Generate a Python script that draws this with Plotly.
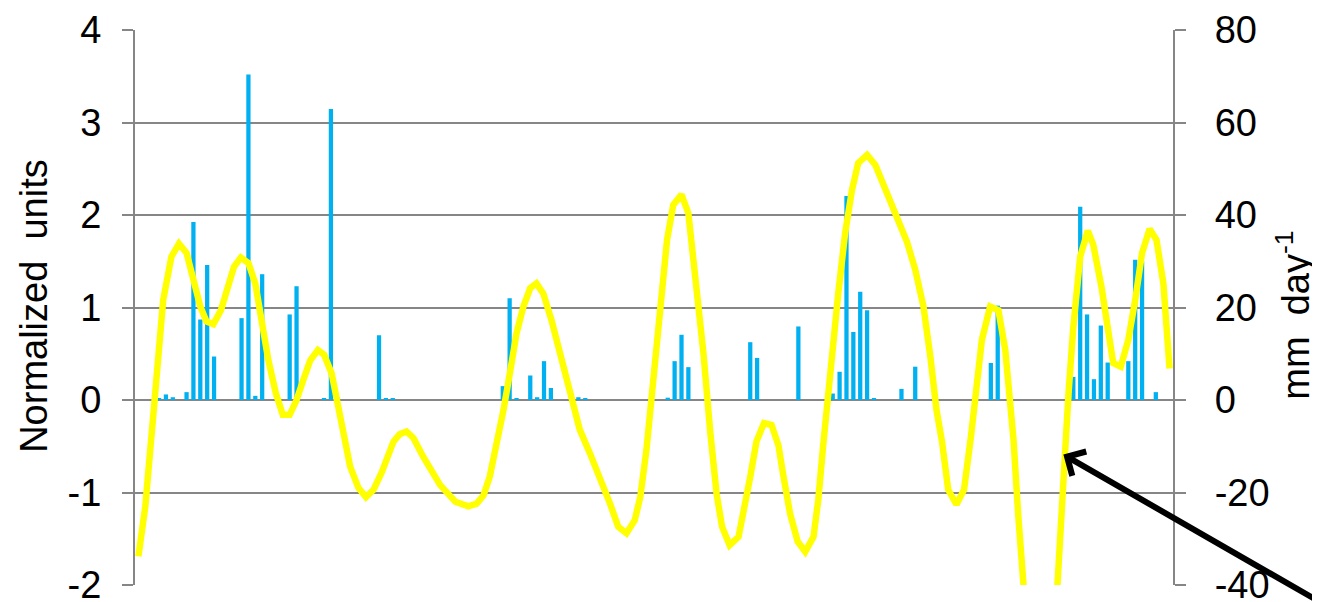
import plotly.graph_objects as go

# Daily precipitation (mm day-1), right axis; day index 0..150
rain_day = [3, 4, 5, 7, 8, 9, 10, 11, 15, 16, 17, 18, 22, 23, 27, 28, 29, 35, 36, 37,
            53, 54, 55, 57, 58, 59, 60, 64, 65, 77, 78, 79, 80, 89, 90, 96,
            101, 102, 103, 104, 105, 106, 107, 111, 113, 124, 125,
            136, 137, 138, 139, 140, 141, 144, 145, 146, 148]
rain_mm = [0.4, 1.2, 0.6, 1.7, 38.5, 17.4, 29.2, 9.4, 17.7, 70.4, 0.9, 27.2, 18.5, 24.6, 0.3, 62.9, 0.5, 14.0, 0.4, 0.4,
           3.0, 22.0, 0.3, 5.3, 0.6, 8.4, 2.6, 0.6, 0.3, 0.5, 8.4, 14.1, 7.1, 12.5, 9.1, 15.9,
           1.4, 6.1, 44.1, 14.7, 23.4, 19.4, 0.4, 2.4, 7.2, 8.0, 20.4,
           5.0, 41.8, 18.5, 4.5, 16.1, 8.1, 8.4, 30.3, 30.0, 1.7]

# Normalized series (left axis)
line_day = [0, 1, 2.4, 3.6, 4.8, 5.9, 7.0, 8.0, 9.0, 9.9,
            10.9, 12.0, 12.9, 13.9, 14.9, 16.0, 17.0, 17.9, 18.9, 20.0,
            21.0, 22.0, 23.0, 24.0, 25.0, 26.1, 27.0, 28.1, 29.1, 30.0,
            30.8, 32.0, 33.1, 34.2, 35.4, 37.1, 38.0, 39.0, 40.0, 41.4,
            43.9, 46.1, 48.0, 49.2, 50.2, 51.1, 52.1, 53.1, 54.1, 55.0,
            56.0, 57.0, 57.9, 58.9, 60.1, 61.3, 62.3, 63.3, 64.2, 65.7,
            67.1, 68.6, 69.8, 71.0, 72.2, 73.0, 73.9, 74.9, 75.9, 76.9,
            77.8, 79.0, 80.0, 81.0, 82.2, 83.2, 84.1, 84.9, 86.0, 87.3,
            88.2, 89.0, 89.9, 91.0, 92.1, 93.1, 93.8, 94.8, 95.9, 97.0,
            98.2, 98.9, 99.6, 100.6, 101.8, 102.8, 103.8, 104.7, 106.0, 107.2,
            108.1, 109.1, 110.3, 111.8, 113.0, 114.2, 115.2, 116.1, 116.9, 117.8,
            119.0, 120.1, 121.1, 122.7, 123.9, 125.1, 126.1, 127.3, 128.0, 128.5,
            129.4, 131.0, 132.6, 133.7, 134.6, 135.3, 136.0, 137.0, 138.1, 138.9,
            140.1, 141.1, 141.8, 142.9, 144.0, 145.0, 146.0, 147.1, 148.1, 149.1,
            150.0]
line_val = [-1.69, -1.15, 0.04, 1.08, 1.55, 1.69, 1.59, 1.30, 1.01, 0.85,
            0.82, 0.97, 1.21, 1.44, 1.54, 1.48, 1.26, 0.86, 0.43, 0.07,
            -0.16, -0.16, 0.00, 0.22, 0.43, 0.54, 0.49, 0.29, -0.11, -0.47,
            -0.72, -0.95, -1.05, -0.97, -0.78, -0.45, -0.37, -0.34, -0.41, -0.61,
            -0.92, -1.10, -1.15, -1.12, -1.03, -0.83, -0.50, -0.11, 0.32, 0.72,
            1.01, 1.21, 1.26, 1.15, 0.86, 0.50, 0.18, -0.11, -0.32, -0.58,
            -0.83, -1.12, -1.37, -1.44, -1.30, -1.05, -0.54, 0.25, 1.05, 1.73,
            2.11, 2.22, 2.02, 1.39, 0.50, -0.36, -1.01, -1.37, -1.57, -1.48,
            -1.17, -0.83, -0.45, -0.25, -0.27, -0.49, -0.81, -1.23, -1.53, -1.64,
            -1.48, -1.08, -0.50, 0.29, 1.15, 1.80, 2.27, 2.56, 2.65, 2.54,
            2.38, 2.18, 1.96, 1.71, 1.41, 1.01, 0.47, -0.11, -0.45, -0.97,
            -1.13, -0.97, -0.40, 0.65, 1.01, 0.97, 0.54, -0.43, -1.26, -2.02,
            -3.3, -4.2, -3.4, -2.02, -0.65, 0.07, 0.79, 1.55, 1.83, 1.68,
            1.22, 0.76, 0.40, 0.36, 0.65, 1.08, 1.59, 1.85, 1.73, 1.26,
            0.34]
assert len(line_day) == len(line_val)
assert len(rain_day) == len(rain_mm)

left_ticks = [-2, -1, 0, 1, 2, 3, 4]
left_labels = ["-2", "-1", "0", "1", "2", "3", "4"]
right_ticks = [-40, -20, 0, 20, 40, 60, 80]
right_labels = ["-40", "-20", "0", "20", "40", "60", "80"]
left_title = "Normalized  units"
right_title = "mm  day<sup>-1</sup>"
n_days = 151
arrow_day, arrow_val = 134.55, -0.59

FONT = "Liberation Sans, Arial, sans-serif"
GRID = "#868686"
NB = "\u00a0"

fig = go.Figure()
fig.add_trace(go.Bar(x=rain_day, y=rain_mm, marker_color="#00B0F0",
                     marker_line_width=0, width=0.62, yaxis="y", showlegend=False))
fig.add_trace(go.Scatter(x=line_day, y=line_val, mode="lines",
                         line=dict(color="#FFFF00", width=6.5), yaxis="y2",
                         showlegend=False))

fig.add_annotation(x=arrow_day, y=arrow_val, xref="x", yref="y2", text="",
                   showarrow=True, arrowhead=4, arrowsize=0.9, arrowwidth=6,
                   arrowcolor="black", ax=290, ay=188, standoff=0)

# axis titles
fig.add_annotation(x=-0.0973, y=0.503, xref="paper", yref="paper", text=left_title,
                   showarrow=False, textangle=-90, xanchor="center", yanchor="middle",
                   font=dict(size=38))
fig.add_annotation(x=1.1156, y=0.487, xref="paper", yref="paper", text=right_title,
                   showarrow=False, textangle=-90, xanchor="center", yanchor="middle",
                   font=dict(size=38))

# page body has an 8px margin; figure is sized/offset to compensate
fig.update_layout(
    width=1312, height=594,
    margin=dict(l=127, r=147, t=22, b=17, autoexpand=False),
    paper_bgcolor="white", plot_bgcolor="white",
    font=dict(family=FONT, size=38, color="black"),
    bargap=0.38,
    xaxis=dict(range=[-0.5, n_days - 0.5], showticklabels=False, ticks="",
               showgrid=False, zeroline=False, showline=False, automargin=False),
    yaxis=dict(side="right", range=[-40, 80], tickvals=right_ticks,
               ticktext=[NB * 2 + t for t in right_labels],
               showgrid=True, gridcolor=GRID, gridwidth=2, zeroline=False,
               showline=True, linecolor=GRID, linewidth=2, mirror=False,
               ticks="outside", ticklen=11, tickcolor=GRID, tickwidth=2,
               ticklabeloverflow="allow", automargin=False),
    yaxis2=dict(side="left", overlaying="y", range=[-2, 4], tickvals=left_ticks,
                ticktext=left_labels,
                showgrid=False, zeroline=False,
                showline=True, linecolor=GRID, linewidth=2,
                ticks="outside", ticklen=11, tickcolor=GRID, tickwidth=2,
                ticklabelstandoff=13, ticklabeloverflow="allow", automargin=False),
)

fig.write_html("out.html")
